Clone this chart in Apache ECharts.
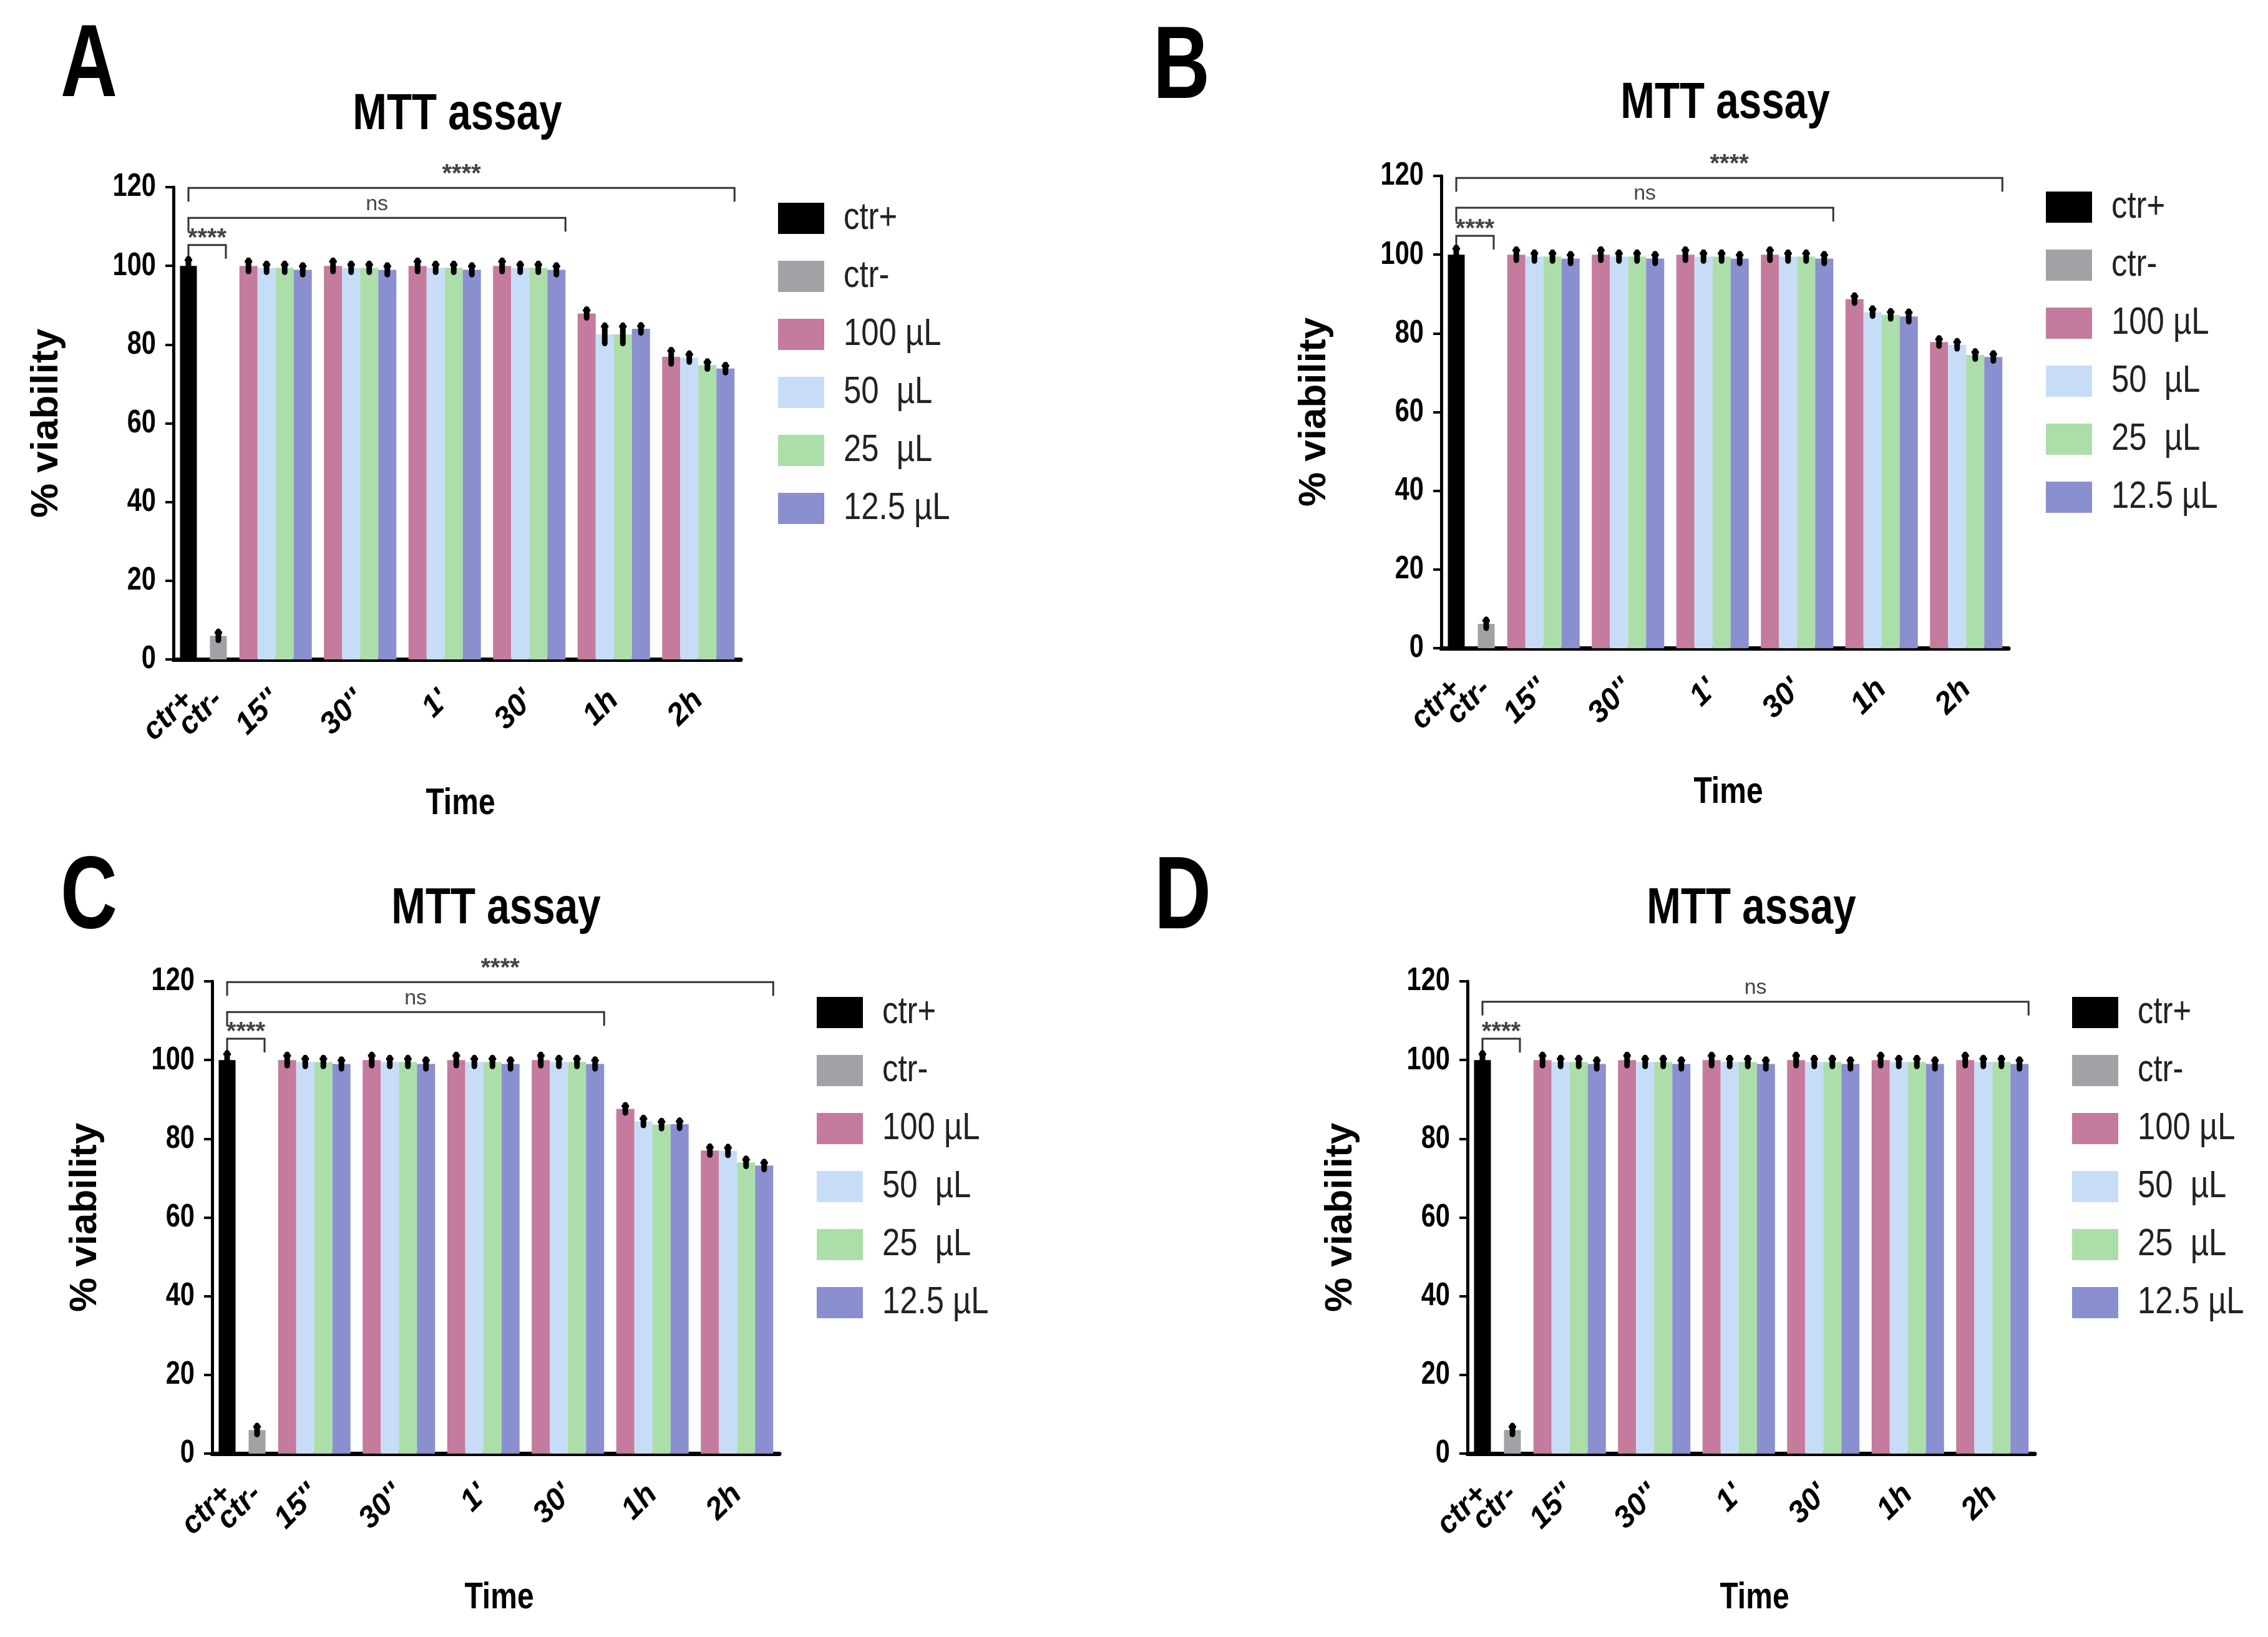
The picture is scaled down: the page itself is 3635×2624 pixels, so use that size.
<!DOCTYPE html>
<html>
<head>
<meta charset="utf-8">
<script src="https://cdn.jsdelivr.net/npm/echarts@6/dist/echarts.min.js"></script>
<style>
html,body{margin:0;padding:0;background:#fff;}
#chart{width:3635px;height:2624px;}
</style>
</head>
<body>
<div id="chart"></div>
<script>
// ---------------- DATA ----------------
const panelLabels = ['A', 'B', 'C', 'D'];
const chartTitle = 'MTT assay';
const xName = 'Time';
const yName = '% viability';
const controls = ['ctr+', 'ctr-'];
const timeCategories = ["15''", "30''", "1'", "30'", "1h", "2h"];
const concentrations = ['100 µL', '50  µL', '25  µL', '12.5 µL'];
const yTicks = [0, 20, 40, 60, 80, 100, 120];

// controls [ctr+, ctr-]
const ctrA = [100, 6.0], ctrErrA = [1.5, 0.8];
const ctrB = [100, 6.2], ctrErrB = [1.5, 0.8];
const ctrC = [100, 6.0], ctrErrC = [1.5, 0.8];
const ctrD = [100, 6.0], ctrErrD = [1.5, 0.8];

// rows: 100 µL, 50 µL, 25 µL, 12.5 µL ; columns: 15'', 30'', 1', 30', 1h, 2h
const valuesA = [
  [100.0, 100.0, 100.0, 100.0, 87.9, 76.9],
  [99.5, 99.5, 99.5, 99.5, 82.6, 76.7],
  [99.5, 99.5, 99.5, 99.5, 82.6, 74.8],
  [99.0, 99.0, 99.0, 99.0, 84.0, 73.9]
];
const errA = [
  [1.1, 1.1, 1.1, 1.1, 0.8, 1.5],
  [0.8, 0.8, 0.8, 0.8, 2.0, 0.8],
  [0.8, 0.8, 0.8, 0.8, 2.0, 0.7],
  [0.9, 0.9, 0.9, 0.9, 0.7, 0.7]
];
const valuesB = [
  [100.0, 100.0, 100.0, 100.0, 88.7, 77.8],
  [99.5, 99.5, 99.5, 99.5, 85.4, 77.1],
  [99.5, 99.5, 99.5, 99.5, 84.7, 74.5],
  [99.0, 99.0, 99.0, 99.0, 84.3, 74.0]
];
const errB = [
  [1.1, 1.1, 1.1, 1.1, 0.7, 0.7],
  [0.8, 0.8, 0.8, 0.8, 0.7, 0.7],
  [0.8, 0.8, 0.8, 0.8, 0.7, 0.7],
  [0.9, 0.9, 0.9, 0.9, 1.0, 0.7]
];
const valuesC = [
  [100.0, 100.0, 100.0, 100.0, 87.6, 77.0],
  [99.5, 99.5, 99.5, 99.5, 84.4, 76.9],
  [99.5, 99.5, 99.5, 99.5, 83.6, 74.0],
  [99.0, 99.0, 99.0, 99.0, 83.7, 73.2]
];
const errC = [
  [1.1, 1.1, 1.1, 1.1, 0.7, 0.8],
  [0.8, 0.8, 0.8, 0.8, 0.7, 0.8],
  [0.8, 0.8, 0.8, 0.8, 0.7, 0.7],
  [0.9, 0.9, 0.9, 0.9, 0.7, 0.7]
];
const valuesD = [
  [100.0, 100.0, 100.0, 100.0, 100.0, 100.0],
  [99.5, 99.5, 99.5, 99.5, 99.5, 99.5],
  [99.5, 99.5, 99.5, 99.5, 99.5, 99.5],
  [99.0, 99.0, 99.0, 99.0, 99.0, 99.0]
];
const errD = [
  [1.1, 1.1, 1.1, 1.1, 1.1, 1.1],
  [0.8, 0.8, 0.8, 0.8, 0.8, 0.8],
  [0.8, 0.8, 0.8, 0.8, 0.8, 0.8],
  [0.9, 0.9, 0.9, 0.9, 0.9, 0.9]
];

// significance brackets: from category, to category, y value of the bracket line, label
const bracketsA = [
  { from: 'ctr+', to: '2h', y: 119.8, label: '****' },
  { from: 'ctr+', to: "30'", y: 112.2, label: 'ns' },
  { from: 'ctr+', to: 'ctr-', y: 105.3, label: '****' }
];
const bracketsB = [
  { from: 'ctr+', to: '2h', y: 119.5, label: '****' },
  { from: 'ctr+', to: "30'", y: 111.9, label: 'ns' },
  { from: 'ctr+', to: 'ctr-', y: 104.8, label: '****' }
];
const bracketsC = [
  { from: 'ctr+', to: '2h', y: 119.8, label: '****' },
  { from: 'ctr+', to: "30'", y: 112.2, label: 'ns' },
  { from: 'ctr+', to: 'ctr-', y: 105.4, label: '****' }
];
const bracketsD = [
  { from: 'ctr+', to: '2h', y: 114.8, label: 'ns' },
  { from: 'ctr+', to: 'ctr-', y: 105.4, label: '****' }
];

// ---------------- STYLE / LAYOUT ----------------
const panels = [
  { label: panelLabels[0], ctr: ctrA, ctrErr: ctrErrA, values: valuesA, err: errA, brackets: bracketsA },
  { label: panelLabels[1], ctr: ctrB, ctrErr: ctrErrB, values: valuesB, err: errB, brackets: bracketsB },
  { label: panelLabels[2], ctr: ctrC, ctrErr: ctrErrC, values: valuesC, err: errC, brackets: bracketsC },
  { label: panelLabels[3], ctr: ctrD, ctrErr: ctrErrD, values: valuesD, err: errD, brackets: bracketsD }
];
const offsets = [[0, 0], [2032, -18], [62, 1273], [2074, 1273]];
const letterPos = [[97, 108], [1848, 111], [97, 1441], [1850, 1442]];
const ctrColors = ['#000000', '#a2a2a6'];
const concColors = ['#c47b9d', '#c7ddf7', '#acdeaa', '#8a8fcf'];
const SANS = "'Liberation Sans', Arial, sans-serif";
const NARROW_SCALE = 0.8;

const AXIS_X = 278, CTRL_W = 96, GRP_LEFT = 374, GRP_W = 813, PLOT_TOP = 300, PLOT_H = 757;
const BAR = 29, CTRL_BAR = 27;
const LEG_X = 1247, LEG_Y = 325, LEG_W = 74, LEG_H = 50, LEG_STEP = 93;

const grids = [], xAxes = [], yAxes = [], series = [], legends = [];

function errRender(barPx) {
  return function (params, api) {
    const ci = api.value(0), v = api.value(1), e = api.value(2), si = api.value(3);
    const c = api.coord([ci, v]);
    const t = api.coord([ci, v + e]);
    const b = api.coord([ci, v - e]);
    const x = c[0] + si * barPx;
    return {
      type: 'group',
      children: [
        { type: 'line', shape: { x1: x, y1: t[1] - 2, x2: x, y2: b[1] + 2 }, style: { stroke: '#000', lineWidth: 9, lineCap: 'round' } },
        { type: 'line', shape: { x1: x - 6, y1: t[1], x2: x + 6, y2: t[1] }, style: { stroke: '#000', lineWidth: 4 } }
      ]
    };
  };
}

function xAxisFor(gridIndex, data) {
  return {
    gridIndex: gridIndex, type: 'category', data: data,
    axisLine: { lineStyle: { color: '#000', width: 7 } },
    axisTick: { alignWithLabel: true, length: 19, lineStyle: { color: '#000', width: 4 } },
    axisLabel: { rotate: 45, interval: 0, margin: 58, fontFamily: SANS, fontWeight: 'bold', fontStyle: 'italic', fontSize: 49, color: '#000' },
    splitLine: { show: false }
  };
}

panels.forEach((p, k) => {
  const [dx, dy] = offsets[k];
  const g1 = 2 * k, g2 = 2 * k + 1;
  grids.push({ left: AXIS_X + dx, top: PLOT_TOP + dy, width: CTRL_W, height: PLOT_H, outerBoundsMode: 'none' });
  grids.push({ left: GRP_LEFT + dx, top: PLOT_TOP + dy, width: GRP_W, height: PLOT_H, outerBoundsMode: 'none' });
  xAxes.push(xAxisFor(g1, controls));
  xAxes.push(xAxisFor(g2, timeCategories));
  yAxes.push({
    gridIndex: g1, type: 'value', min: yTicks[0], max: yTicks[yTicks.length - 1], interval: yTicks[1] - yTicks[0],
    axisLine: { show: true, lineStyle: { color: '#000', width: 5 } },
    axisTick: { show: true, length: 13, lineStyle: { color: '#000', width: 4 } },
    axisLabel: { show: false },
    splitLine: { show: false },
    name: yName, nameLocation: 'middle', nameGap: 172,
    nameTextStyle: { fontFamily: SANS, fontWeight: 'bold', fontSize: 62, color: '#000' }
  });
  yAxes.push({ gridIndex: g2, type: 'value', min: yTicks[0], max: yTicks[yTicks.length - 1], interval: yTicks[1] - yTicks[0], show: false, splitLine: { show: false } });

  series.push({ name: controls[0], type: 'bar', xAxisIndex: g1, yAxisIndex: g1, data: [p.ctr[0], '-'], barWidth: CTRL_BAR, barGap: '-100%', itemStyle: { color: ctrColors[0] } });
  series.push({ name: controls[1], type: 'bar', xAxisIndex: g1, yAxisIndex: g1, data: ['-', p.ctr[1]], barWidth: CTRL_BAR, barGap: '-100%', itemStyle: { color: ctrColors[1] } });
  concentrations.forEach((c, i) => {
    series.push({ name: c, type: 'bar', xAxisIndex: g2, yAxisIndex: g2, data: p.values[i], barWidth: BAR, barGap: '0%', itemStyle: { color: concColors[i] } });
  });
  series.push({
    type: 'custom', xAxisIndex: g1, yAxisIndex: g1, z: 5, silent: true,
    renderItem: errRender(0), encode: { x: 0, y: 1 },
    data: controls.map((c, i) => [i, p.ctr[i], p.ctrErr[i], 0])
  });
  const errData = [];
  concentrations.forEach((c, i) => timeCategories.forEach((t, j) => errData.push([j, p.values[i][j], p.err[i][j], i - 1.5])));
  series.push({
    type: 'custom', xAxisIndex: g2, yAxisIndex: g2, z: 5, silent: true,
    renderItem: errRender(BAR), encode: { x: 0, y: 1 }, data: errData
  });

  legends.push({
    orient: 'vertical', left: LEG_X + dx, top: LEG_Y + dy, padding: 0,
    itemWidth: LEG_W, itemHeight: LEG_H, itemGap: LEG_STEP - LEG_H, icon: 'rect', selectedMode: false,
    data: controls.concat(concentrations),
    formatter: function () { return ''; },
    textStyle: { fontSize: 8, lineHeight: 8, color: 'rgba(0,0,0,0)' }
  });
});

const chart = echarts.init(document.getElementById('chart'), null, { renderer: 'canvas' });
chart.setOption({
  backgroundColor: '#fff',
  animation: false,
  grid: grids, xAxis: xAxes, yAxis: yAxes, series: series, legend: legends
});

// narrow (condensed) text helper: Liberation Sans squeezed horizontally around its anchor
function ntext(x, y, text, font, align, valign, fill, sx) {
  return {
    type: 'text', x: x, y: y, scaleX: sx == null ? NARROW_SCALE : sx, silent: true,
    style: { x: 0, y: 0, text: text, font: font, fill: fill || '#000', textAlign: align, textVerticalAlign: valign }
  };
}

const graphics = [];
panels.forEach((p, k) => {
  const [dx, dy] = offsets[k];
  const g1 = 2 * k, g2 = 2 * k + 1;
  graphics.push(ntext(letterPos[k][0], letterPos[k][1], p.label, 'bold 166px ' + SANS, 'left', 'middle', '#000', 0.76));
  graphics.push(ntext(733 + dx, 184 + dy, chartTitle, 'bold 82px ' + SANS, 'center', 'middle', '#000'));
  graphics.push(ntext(738 + dx, 1288 + dy, xName, 'bold 60px ' + SANS, 'center', 'middle', '#000'));

  // y tick labels through the y scale
  yTicks.forEach(v => {
    const pt = chart.convertToPixel({ xAxisIndex: g1, yAxisIndex: g1 }, ['ctr+', v]);
    graphics.push(ntext(AXIS_X + dx - 28, pt[1], String(v), 'bold 52px ' + SANS, 'right', 'middle', '#000'));
  });

  // legend labels next to the legend swatches
  controls.concat(concentrations).forEach((name, i) => {
    graphics.push(ntext(LEG_X + LEG_W + 31 + dx, LEG_Y + LEG_H / 2 + i * LEG_STEP + dy, name, '62px ' + SANS, 'left', 'middle', '#222', 0.82));
  });

  const px = (cat, y) => {
    const ax = controls.indexOf(cat) >= 0 ? g1 : g2;
    return chart.convertToPixel({ xAxisIndex: ax, yAxisIndex: ax }, [cat, y]);
  };
  p.brackets.forEach(b => {
    const L = px(b.from, b.y);
    const R = px(b.to, b.y);
    const isSmall = controls.indexOf(b.to) >= 0;
    const rx = R[0] + (isSmall ? 12 : 2 * BAR);
    const y = L[1];
    const tick = 22;
    graphics.push({ type: 'polyline', silent: true, shape: { points: [[L[0], y + tick], [L[0], y], [rx, y], [rx, y + tick]] }, style: { stroke: '#333', lineWidth: 3, fill: null } });
    const isNs = b.label === 'ns';
    const ly = isNs ? y - 5 : (isSmall ? y + 10 : y - 1);
    graphics.push({ type: 'text', silent: true, x: (L[0] + rx) / 2, y: ly, style: { text: b.label, font: (isNs ? '34px ' + SANS : 'bold 40px ' + SANS), fill: '#444', textAlign: 'center', textVerticalAlign: 'bottom' } });
  });
});
chart.setOption({ graphic: graphics });
</script>
</body>
</html>
